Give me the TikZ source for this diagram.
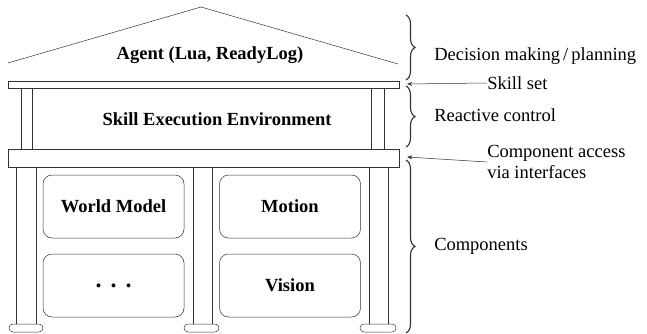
\documentclass[tikz,border=0pt]{standalone}
\usepackage{fontspec}
\setmainfont{Liberation Serif}
\usetikzlibrary{arrows.meta,positioning,decorations.pathreplacing}

\begin{document}
\begin{tikzpicture}[x=1pt, y=-1pt, >=Stealth, line width=0.5pt, draw=black!80,
	font=\fontsize{18.5}{21}\selectfont,
	balk/.style={draw=black!80, fill=white},
	voet/.style={draw=black!80, fill=white, rounded corners=4pt},
	blok/.style={draw=black!80, fill=white, rounded corners=9pt, minimum width=141pt, minimum height=63pt, font=\fontsize{18.5}{21}\selectfont\bfseries},
	accolade/.style={decorate, decoration={brace, amplitude=9pt, raise=-1pt}, line width=1.1pt},
	uitleg/.style={anchor=west, align=left, inner sep=0pt}]
		\useasboundingbox (0,0) rectangle (647,334);

		% Dak met agent
		\draw (8,63) -- (201,7) -- (398,64);
		\node[font=\fontsize{18.5}{21}\selectfont\bfseries] (agent) at (210,55) {Agent (Lua, ReadyLog)};

		% Bovenste balk en zuilen
		\draw[balk] (8,81) rectangle (399,88);
		\draw[balk] (21,88) rectangle (32,149);
		\draw[balk] (371,88) rectangle (384,149);
		\node[font=\fontsize{18.5}{21}\selectfont\bfseries] (skillenv) at (217,119) {Skill Execution Environment};

		% Middelste balk
		\draw[balk] (8,149) rectangle (399,167);

		% Onderste zuilen met voeten
		\foreach \xa/\xb/\va/\vb in {16/36/9/43, 193/212/184/219, 369/388/360/396} {
			\draw[balk] (\xa,167) rectangle (\xb,325);
			\draw[voet] (\va,324) rectangle (\vb,332);
		}

		% Componenten
		\node[blok] (worldmodel) at (113.5,206.5) {World Model};
		\node[blok] (motion) at (290,206.5) {Motion};
		\node[blok] (overige) at (113.5,285.5) {\fontsize{24}{24}\selectfont.\hspace{9pt}.\hspace{9pt}.};
		\node[blok] (vision) at (290,285.5) {Vision};

		% Accolades rechts
		\draw[accolade] (407,15) -- (407,80);
		\draw[accolade] (407,86) -- (407,147);
		\draw[accolade] (407,160) -- (407,333);

		% Tekst labels toevoegen
		\node[uitleg] (beslissing) at (434,56) {Decision making\,/\,planning};
		\node[uitleg] (reactief) at (434,115) {Reactive control};
		\node[uitleg] (componenten) at (434,246) {Components};
		\node[uitleg] (skillset) at (487,83) {Skill set};
		\node[uitleg] (toegang) at (487,162) {Component access\\via interfaces};

		% Pijlen naar de balken
		\coordinate (skillpunt) at (407,84);
		\coordinate (toegangpunt) at (407,157);
		\draw[->] (skillset.west) -- (skillpunt);
		\draw[->] (toegang.west) -- (toegangpunt);
	\end{tikzpicture}
\end{document}
